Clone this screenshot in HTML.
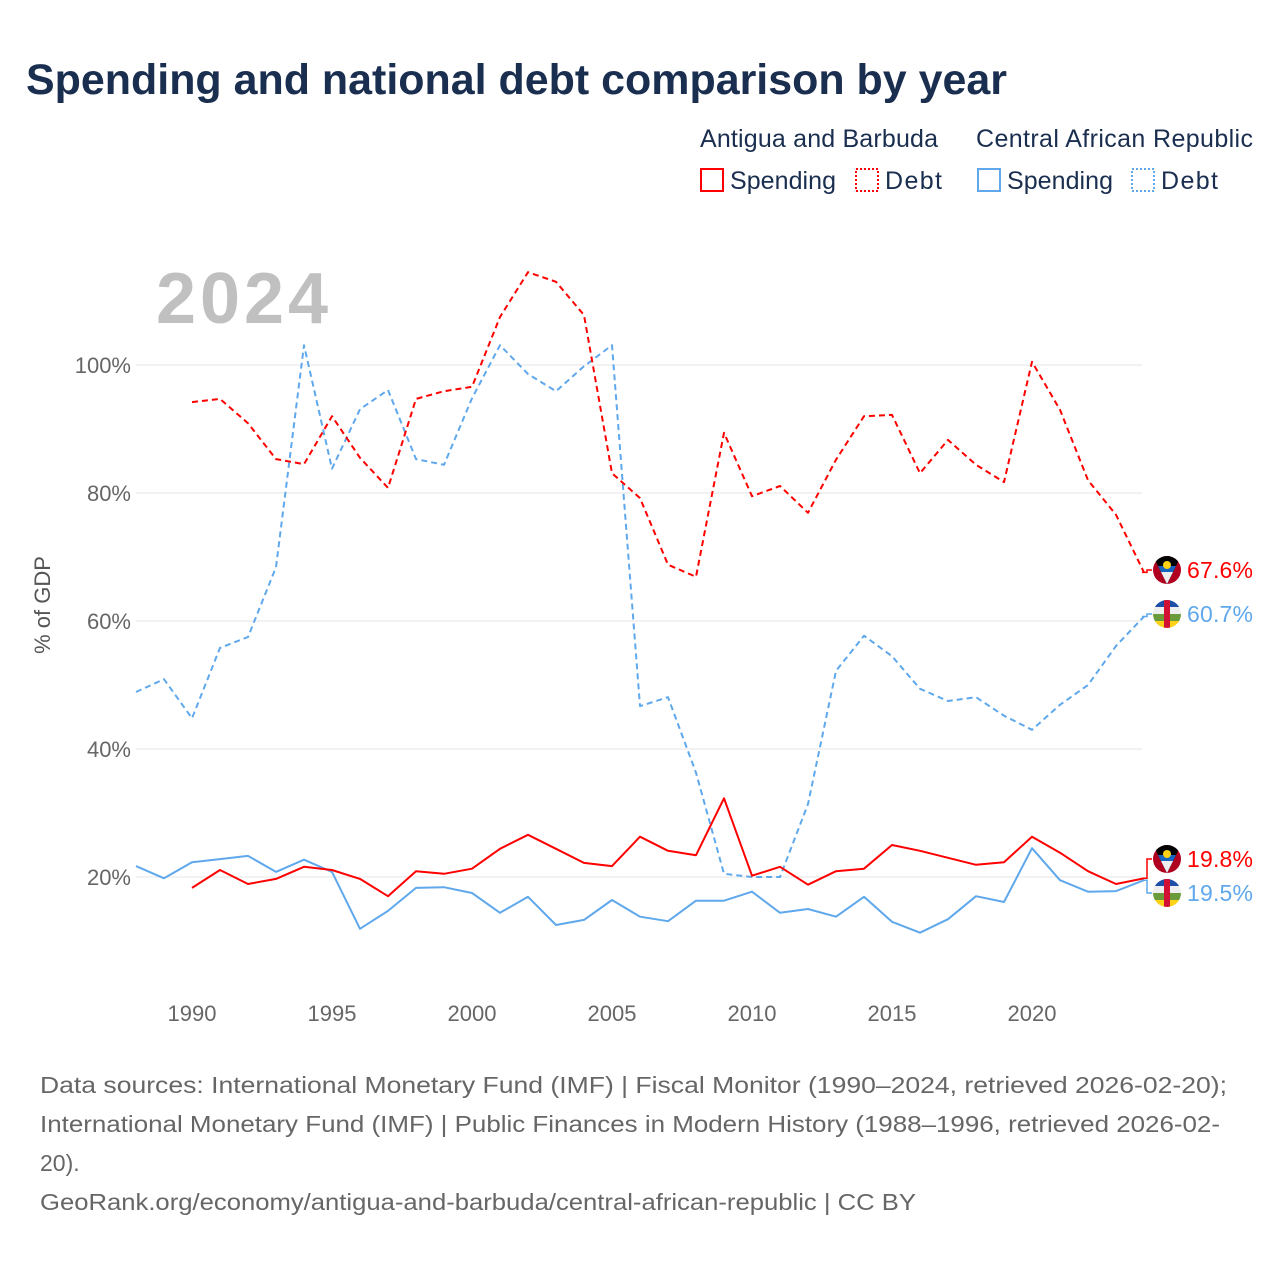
<!DOCTYPE html>
<html><head><meta charset="utf-8"><style>
body{margin:0;background:#fff;font-family:"Liberation Sans",sans-serif;}
#wrap{position:relative;width:1280px;height:1280px;overflow:hidden;}
</style></head><body><div id="wrap">
<svg id="svg" width="1280" height="1280" xmlns="http://www.w3.org/2000/svg">
<text x="26" y="94" font-size="43" font-weight="bold" fill="#1a2e4f" textLength="981" lengthAdjust="spacingAndGlyphs">Spending and national debt comparison by year</text>
<g font-size="25" fill="#1a2e4f">
<text x="700" y="147" textLength="238">Antigua and Barbuda</text>
<text x="976" y="147" textLength="277">Central African Republic</text>
<g><rect x="701" y="169" width="22" height="22" fill="none" stroke="#f00" stroke-width="2"/><text x="730" y="189" textLength="106">Spending</text></g>
<g><rect x="856" y="169" width="22" height="22" fill="none" stroke="#f00" stroke-width="2" stroke-dasharray="2,2"/><text x="885" y="189" textLength="57">Debt</text></g>
<g><rect x="978" y="169" width="22" height="22" fill="none" stroke="#5fa8ec" stroke-width="2"/><text x="1007" y="189" textLength="106">Spending</text></g>
<g><rect x="1132" y="169" width="22" height="22" fill="none" stroke="#5fa8ec" stroke-width="2" stroke-dasharray="2,2"/><text x="1161" y="189" textLength="57">Debt</text></g>
</g>
<text x="156" y="323" font-size="72" font-weight="bold" fill="#c0c0c0" textLength="172">2024</text>
<text transform="translate(50,605) rotate(-90)" text-anchor="middle" font-size="22" fill="#555">% of GDP</text>
<g id="grid"></g><g id="series"></g><g id="labels"></g>
<g font-size="23" fill="#666">
<text x="40" y="1093" textLength="1187" lengthAdjust="spacingAndGlyphs">Data sources: International Monetary Fund (IMF) | Fiscal Monitor (1990–2024, retrieved 2026-02-20);</text>
<text x="40" y="1132" textLength="1180" lengthAdjust="spacingAndGlyphs">International Monetary Fund (IMF) | Public Finances in Modern History (1988–1996, retrieved 2026-02-</text>
<text x="40" y="1171">20).</text>
<text x="40" y="1210" textLength="876" lengthAdjust="spacingAndGlyphs">GeoRank.org/economy/antigua-and-barbuda/central-african-republic | CC BY</text>
</g>
</svg>
<script>
const yTicks=[20,40,60,80,100];
const xTicks=[1990,1995,2000,2005,2010,2015,2020];
const atgYears0=1990, carYears0=1988;
const atgDebt=[94.2,94.7,90.9,85.3,84.5,92.0,85.5,80.8,94.7,95.9,96.6,107.5,114.5,113,107.8,83.1,79.2,68.8,66.9,89.4,79.5,81.1,76.9,85.2,92,92.2,83.1,88.3,84.4,81.7,100.5,93,82,76.6,67.6];
const atgSpend=[18.3,21.1,18.9,19.7,21.6,21.1,19.7,17,20.9,20.5,21.3,24.4,26.6,24.4,22.2,21.7,26.3,24.1,23.4,32.3,20.2,21.6,18.8,20.9,21.3,25,24.1,23,21.9,22.3,26.3,23.8,20.9,18.9,19.8];
const carDebt=[48.9,50.9,44.8,55.8,57.5,68.4,103.1,83.8,93.1,96.1,85.3,84.4,94.8,103.1,98.6,95.9,99.8,103.1,46.7,48.1,36.3,20.5,20,20,31.4,52.2,57.7,54.5,49.4,47.5,48.1,45.2,43,46.9,50,56.1,60.7];
const carSpend=[21.7,19.8,22.3,22.8,23.3,20.8,22.7,20.8,11.9,14.7,18.3,18.4,17.5,14.4,16.9,12.5,13.3,16.4,13.8,13.1,16.3,16.3,17.7,14.4,15,13.8,16.9,13,11.3,13.4,17,16.1,24.5,19.5,17.7,17.8,19.5];
const X=y=>192+(y-1990)*28, Y=v=>1005-v*6.4;
const NS="http://www.w3.org/2000/svg";
function mk(tag,attrs,parent){const e=document.createElementNS(NS,tag);for(const k in attrs)e.setAttribute(k,attrs[k]);parent.appendChild(e);return e;}
const grid=document.getElementById('grid');
yTicks.forEach(t=>{
 const l=mk('line',{x1:136,x2:1142,y1:Y(t),y2:Y(t),stroke:'#e6e6e6','stroke-width':1},grid);
 
 
 const tx=mk('text',{x:131,y:Y(t)+8,'text-anchor':'end','font-size':22,fill:'#666'},grid);tx.textContent=t+'%';
 
 
});
xTicks.forEach(t=>{
 const tx=mk('text',{x:X(t),y:1021,'text-anchor':'middle','font-size':22,fill:'#666'},grid);tx.textContent=t;
 
 
});
const ser=document.getElementById('series');
function line(arr,y0,color,dash,name){
 const d=arr.map((v,i)=>(i?'L':'M')+X(y0+i).toFixed(1)+','+Y(v).toFixed(1)).join(' ');
 const p=mk('path',{d:d,fill:'none',stroke:color,'stroke-width':2,'stroke-dasharray':dash,'stroke-linejoin':'round'},ser);
 
 
}
line(carDebt,carYears0,'#5fa8ec','6,4','line-car-debt');
line(carSpend,carYears0,'#5fa8ec','none','line-car-spending');
line(atgDebt,atgYears0,'#f00','6,4','line-atg-debt');
line(atgSpend,atgYears0,'#f00','none','line-atg-spending');
const lab=document.getElementById('labels');
function clipG(cx,cy,g){const id='c'+cy;const cp=mk('clipPath',{id:id},g);mk('circle',{cx:cx,cy:cy,r:14},cp);return mk('g',{'clip-path':`url(#${id})`},g);}
function flagATG(cx,cy,g){
 const gg=clipG(cx,cy,g);
 mk('rect',{x:cx-14,y:cy-14,width:28,height:28,fill:'#b00020'},gg);
 mk('path',{d:`M${cx-14},${cy-14} L${cx+14},${cy-14} L${cx},${cy+14} Z`,fill:'#000'},gg);
 mk('path',{d:`M${cx-9},${cy-4} L${cx+9},${cy-4} L${cx},${cy+14} Z`,fill:'#1565c0'},gg);
 mk('path',{d:`M${cx-6},${cy+2} L${cx+6},${cy+2} L${cx},${cy+14} Z`,fill:'#eee'},gg);
 mk('circle',{cx:cx,cy:cy-5,r:4,fill:'#fcd116'},gg);
}
function flagCAF(cx,cy,g){
 const gg=clipG(cx,cy,g);
 ['#1e4fa8','#eee','#6a9b3a','#fcd116'].forEach((c,i)=>mk('rect',{x:cx-14,y:cy-14+i*7,width:28,height:7,fill:c},gg));
 mk('rect',{x:cx-3,y:cy-14,width:6,height:28,fill:'#d21034'},gg);
}
const tags=[[atgDebt[34],570,'#f00',flagATG,'67.6%','label-atg-debt'],[carDebt[36],614,'#5fa8ec',flagCAF,'60.7%','label-car-debt'],[atgSpend[34],859,'#f00',flagATG,'19.8%','label-atg-spending'],[carSpend[36],893,'#5fa8ec',flagCAF,'19.5%','label-car-spending']];
tags.forEach(t=>{
 const g=mk('g',{},lab);
 
 
 mk('path',{d:`M1142,${Y(t[0])} L1147,${Y(t[0])} L1147,${t[1]} L1152,${t[1]}`,fill:'none',stroke:t[2],'stroke-width':1.5},g);
 t[3](1167,t[1],g);
 const tx=mk('text',{x:1187,y:t[1]+8,'font-size':23,fill:t[2],textLength:66},g);tx.textContent=t[4];
});
</script>
</div></body></html>
